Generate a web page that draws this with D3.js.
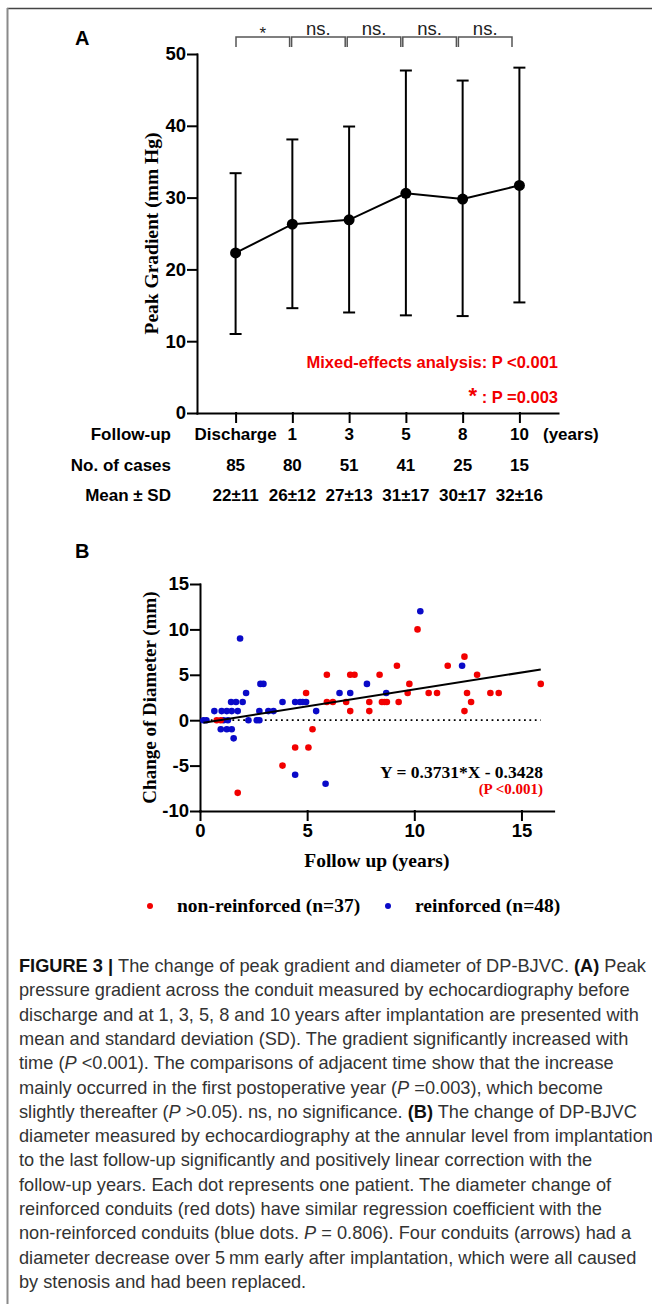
<!DOCTYPE html>
<html lang="en">
<head>
<meta charset="utf-8">
<title>Figure 3 - peak gradient and diameter of DP-BJVC</title>
<script src="https://d3js.org/d3.v7.min.js"></script>
<style>
  body { margin: 0; background: #ffffff; }
  svg { display: block; background: #ffffff; }
  .sans { font-family: "Liberation Sans", Arial, sans-serif; font-weight: bold; }
  .serif { font-family: "Liberation Serif", "Times New Roman", serif; font-weight: bold; }
  .axis path, .axis line { stroke: #000; stroke-width: 2; stroke-linecap: square; }
  .red { fill: #f20000; }
  .caption { font-family: "Liberation Sans", Arial, sans-serif; fill: #333333; }
</style>
</head>
<body>
<svg id="fig" width="652" height="1304"></svg>
<script>

// ---- panel A data ----
const timepoints = ["Discharge", "1", "3", "5", "8", "10"];
const gradMean = [22.3, 26.3, 26.9, 30.6, 29.8, 31.7];
const gradLow  = [11.0, 14.6, 14.0, 13.6, 13.5, 15.4];
const gradHigh = [33.4, 38.1, 39.9, 47.7, 46.3, 48.1];
const nCases = [85, 80, 51, 41, 25, 15];
const meanSd = ["22±11", "26±12", "27±13", "31±17", "30±17", "32±16"];
const comparisons = ["*", "ns.", "ns.", "ns.", "ns."];
const gradTicks = [0, 10, 20, 30, 40, 50];

// ---- panel B data (years, change in mm) ----
const nonReinforced = [
  [0.78, 0], [0.97, 0], [1.76, -8], [3.85, -5], [4.44, -3], [5.06, -3], [5.25, -1],
  [4.95, 3], [5.92, 5], [5.92, 2], [6.2, 2], [6.82, 2], [7.01, 1], [7.01, 5],
  [7.21, 5], [7.9, 2], [7.9, 1], [8.38, 5], [8.49, 2], [8.61, 2], [8.72, 2],
  [9.19, 6], [9.27, 2], [9.69, 3], [9.77, 4], [10.15, 10], [10.67, 3], [11.06, 3],
  [11.56, 6], [12.34, 7], [12.46, 3], [12.65, 2], [12.34, 1], [12.93, 5], [13.55, 3],
  [13.94, 3], [15.9, 4]
];
const reinforced = [
  [0.16, 0], [0.3, 0], [0.67, 1], [1.01, 1], [1.25, 1], [1.48, 1], [1.76, 1],
  [1.1, 0], [1.3, 0], [0.97, -1], [1.25, -1], [1.48, -1], [1.57, -2], [1.45, 2],
  [1.68, 2], [1.99, 2], [2.15, 3], [1.87, 9], [2.26, 0], [2.65, 0], [2.77, 0],
  [2.77, 1], [2.82, 4], [2.96, 4], [3.19, 1], [3.43, 1], [3.85, 2], [4.44, -6],
  [4.44, 2], [4.67, 2], [4.79, 2], [4.95, 2], [5.42, 1], [5.86, -7], [6.51, 3],
  [7.01, 3], [7.79, 4], [8.69, 3], [10.28, 12], [12.23, 6]
];
const diamTicksY = [-10, -5, 0, 5, 10, 15];
const diamTicksX = [0, 5, 10, 15];
const slope = 0.3731, intercept = -0.3428;

// ---- caption text ----
const captionLines = [
  [["FIGURE 3 | ", "b"], ["The change of peak gradient and diameter of DP-BJVC. "], ["(A)", "b"], [" Peak"]],
  [["pressure gradient across the conduit measured by echocardiography before"]],
  [["discharge and at 1, 3, 5, 8 and 10 years after implantation are presented with"]],
  [["mean and standard deviation (SD). The gradient significantly increased with"]],
  [["time ("], ["P", "i"], [" <0.001). The comparisons of adjacent time show that the increase"]],
  [["mainly occurred in the first postoperative year ("], ["P", "i"], [" =0.003), which become"]],
  [["slightly thereafter ("], ["P", "i"], [" >0.05). ns, no significance. "], ["(B)", "b"], [" The change of DP-BJVC"]],
  [["diameter measured by echocardiography at the annular level from implantation"]],
  [["to the last follow-up significantly and positively linear correction with the"]],
  [["follow-up years. Each dot represents one patient. The diameter change of"]],
  [["reinforced conduits (red dots) have similar regression coefficient with the"]],
  [["non-reinforced conduits (blue dots. "], ["P", "i"], [" = 0.806). Four conduits (arrows) had a"]],
  [["diameter decrease over 5\u2009mm early after implantation, which were all caused"]],
  [["by stenosis and had been replaced."]]
];

const svg = d3.select("#fig");

// frame
svg.append("line").attr("x1", 7).attr("y1", 8.5).attr("x2", 652).attr("y2", 8.5)
  .attr("stroke", "#444").attr("stroke-width", 1.5);
svg.append("line").attr("x1", 7.5).attr("y1", 8).attr("x2", 7.5).attr("y2", 1304)
  .attr("stroke", "#8a8a8a").attr("stroke-width", 2);

// ================= panel A =================
const xA = d3.scalePoint().domain(timepoints).range([197, 558]).padding(0.68);
const yA = d3.scaleLinear().domain([0, 50]).range([413, 54]);
const gA = svg.append("g");

gA.append("text").attr("class", "sans").attr("x", 75).attr("y", 45)
  .style("font-size", "20px").text("A");

gA.append("g").attr("class", "axis").attr("transform", "translate(0,413)")
  .call(d3.axisBottom(xA).tickSize(9).tickSizeOuter(0).tickFormat(""));

gA.append("g").attr("class", "axis").attr("transform", "translate(197,0)")
  .call(d3.axisLeft(yA).tickValues(gradTicks).tickSize(9).tickSizeOuter(0).tickPadding(2))
  .call(g => g.selectAll("text").attr("class", "sans").style("font-size", "18.5px"));

gA.append("text").attr("class", "serif")
  .attr("transform", "translate(158," + (yA(0) + yA(50)) / 2 + ") rotate(-90)")
  .attr("text-anchor", "middle").style("font-size", "19.5px")
  .text("Peak Gradient (mm Hg)");

const gradRows = timepoints.map((t, i) => ({ t: t, mean: gradMean[i], low: gradLow[i], high: gradHigh[i] }));

// error bars
const bars = gA.append("g").attr("stroke", "#000").attr("stroke-width", 2)
  .selectAll("g").data(gradRows).enter().append("g");
bars.append("line")
  .attr("x1", d => xA(d.t)).attr("x2", d => xA(d.t))
  .attr("y1", d => yA(d.low)).attr("y2", d => yA(d.high));
bars.append("line")
  .attr("x1", d => xA(d.t) - 6).attr("x2", d => xA(d.t) + 6)
  .attr("y1", d => yA(d.low)).attr("y2", d => yA(d.low));
bars.append("line")
  .attr("x1", d => xA(d.t) - 6).attr("x2", d => xA(d.t) + 6)
  .attr("y1", d => yA(d.high)).attr("y2", d => yA(d.high));

// mean line and points
gA.append("path").datum(gradRows)
  .attr("fill", "none").attr("stroke", "#000").attr("stroke-width", 2)
  .attr("d", d3.line().x(d => xA(d.t)).y(d => yA(d.mean)));
gA.selectAll("circle.mean").data(gradRows).enter().append("circle")
  .attr("class", "mean").attr("cx", d => xA(d.t)).attr("cy", d => yA(d.mean))
  .attr("r", 5.5).attr("fill", "#000");

// comparison brackets
const xBr = d3.scaleLinear().domain([0, comparisons.length]).range([235, 513]);
const br = gA.append("g").selectAll("g").data(comparisons).enter().append("g");
br.append("path")
  .attr("fill", "none").attr("stroke", "#555").attr("stroke-width", 1.5)
  .attr("d", (d, i) => "M" + (xBr(i) + 1) + ",47V37H" + (xBr(i + 1) - 1) + "V47");
br.append("text")
  .attr("x", (d, i) => (xBr(i) + xBr(i + 1)) / 2)
  .attr("y", d => d === "*" ? 39 : 35)
  .attr("text-anchor", "middle")
  .style("font-family", "'Liberation Sans', Arial, sans-serif")
  .style("font-size", d => d === "*" ? "17px" : "18.5px")
  .attr("fill", "#222")
  .text(d => d);

// red statistics notes
gA.append("text").attr("class", "sans red").attr("x", 558).attr("y", 368)
  .attr("text-anchor", "end").style("font-size", "16.5px")
  .text("Mixed-effects analysis: P <0.001");
const star = gA.append("text").attr("class", "sans red").attr("x", 558).attr("y", 403)
  .attr("text-anchor", "end").style("font-size", "16.5px");
star.append("tspan").style("font-size", "22px").text("*");
star.append("tspan").text(" : P =0.003");

// table under panel A
const tableRows = [
  { label: "Follow-up", vals: timepoints, y: 440 },
  { label: "No. of cases", vals: nCases, y: 471 },
  { label: "Mean ± SD", vals: meanSd, y: 501 }
];
tableRows.forEach(row => {
  gA.append("text").attr("class", "sans").attr("x", 171).attr("y", row.y)
    .attr("text-anchor", "end").style("font-size", "17px").text(row.label);
  gA.append("g").selectAll("text").data(row.vals).enter().append("text")
    .attr("class", "sans")
    .attr("x", (d, i) => xA(timepoints[i])).attr("y", row.y)
    .attr("text-anchor", "middle").style("font-size", "17px")
    .text(d => d);
});
gA.append("text").attr("class", "sans").attr("x", 543).attr("y", 440)
  .style("font-size", "17px").text("(years)");

// ================= panel B =================
const xB = d3.scaleLinear().domain([0, 16.5]).range([200, 553.6]);
const yB = d3.scaleLinear().domain([-10, 15]).range([811, 584]);
const gB = svg.append("g");

gB.append("text").attr("class", "sans").attr("x", 75).attr("y", 558)
  .style("font-size", "20px").text("B");

gB.append("g").attr("class", "axis").attr("transform", "translate(0,811)")
  .call(d3.axisBottom(xB).tickValues(diamTicksX).tickSize(9).tickSizeOuter(0).tickPadding(4)
    .tickFormat(d => String(d)))
  .call(g => g.selectAll("text").attr("class", "sans").style("font-size", "18.5px"));

gB.append("g").attr("class", "axis").attr("transform", "translate(200,0)")
  .call(d3.axisLeft(yB).tickValues(diamTicksY).tickSize(9).tickSizeOuter(0).tickPadding(2)
    .tickFormat(d => String(d)))
  .call(g => g.selectAll("text").attr("class", "sans").style("font-size", "18.5px"));

gB.append("text").attr("class", "serif")
  .attr("transform", "translate(156," + (yB(-10) + yB(15)) / 2 + ") rotate(-90)")
  .attr("text-anchor", "middle").style("font-size", "19px")
  .text("Change of Diameter (mm)");

gB.append("text").attr("class", "serif")
  .attr("x", (xB.range()[0] + xB.range()[1]) / 2).attr("y", 867)
  .attr("text-anchor", "middle").style("font-size", "19.5px")
  .text("Follow up (years)");

const allX = nonReinforced.concat(reinforced).map(d => d[0]);
const xExt = d3.extent(allX);

// zero reference line (dotted)
gB.append("line")
  .attr("x1", xB(0)).attr("x2", xB(xExt[1]))
  .attr("y1", yB(0)).attr("y2", yB(0))
  .attr("stroke", "#000").attr("stroke-width", 1.8).attr("stroke-dasharray", "1.8,3.6");

// points
gB.append("g").selectAll("circle").data(reinforced).enter().append("circle")
  .attr("cx", d => xB(d[0])).attr("cy", d => yB(d[1])).attr("r", 3.3)
  .attr("fill", "#0a0ac8");
gB.append("g").selectAll("circle").data(nonReinforced).enter().append("circle")
  .attr("cx", d => xB(d[0])).attr("cy", d => yB(d[1])).attr("r", 3.3)
  .attr("fill", "#f20000");

// regression line
gB.append("line")
  .attr("x1", xB(xExt[0])).attr("y1", yB(slope * xExt[0] + intercept))
  .attr("x2", xB(xExt[1])).attr("y2", yB(slope * xExt[1] + intercept))
  .attr("stroke", "#000").attr("stroke-width", 2);

gB.append("text").attr("class", "serif").attr("x", 543).attr("y", 778)
  .attr("text-anchor", "end").style("font-size", "17.5px")
  .text("Y = 0.3731*X - 0.3428");
gB.append("text").attr("class", "serif red").attr("x", 543).attr("y", 794)
  .attr("text-anchor", "end").style("font-size", "15px")
  .text("(P <0.001)");

// legend
const legend = [
  { label: "non-reinforced (n=37)", color: "#f20000", x: 150 },
  { label: "reinforced (n=48)", color: "#0a0ac8", x: 388 }
];
const lg = gB.append("g").selectAll("g").data(legend).enter().append("g");
lg.append("circle").attr("cx", d => d.x).attr("cy", 906).attr("r", 3).attr("fill", d => d.color);
lg.append("text").attr("class", "serif").attr("x", d => d.x + 27).attr("y", 912)
  .style("font-size", "19.5px").text(d => d.label);

// ================= caption =================
const cap = svg.append("g");
const capText = cap.selectAll("text").data(captionLines).enter().append("text")
  .attr("class", "caption")
  .attr("x", 19).attr("y", (d, i) => 972 + i * 24.3)
  .style("font-size", "17px");
capText.each(function(segs) {
  const t = d3.select(this);
  segs.forEach(s => {
    const sp = t.append("tspan").text(s[0]);
    if (s[1] === "b") sp.style("font-weight", "bold").attr("fill", "#111");
    if (s[1] === "i") sp.style("font-style", "italic");
  });
});
// fit the first line to the printed column width
const firstLen = capText.nodes()[0].getComputedTextLength();
const capSize = 17 * 627 / firstLen;
capText.style("font-size", capSize + "px");

</script>
</body>
</html>
